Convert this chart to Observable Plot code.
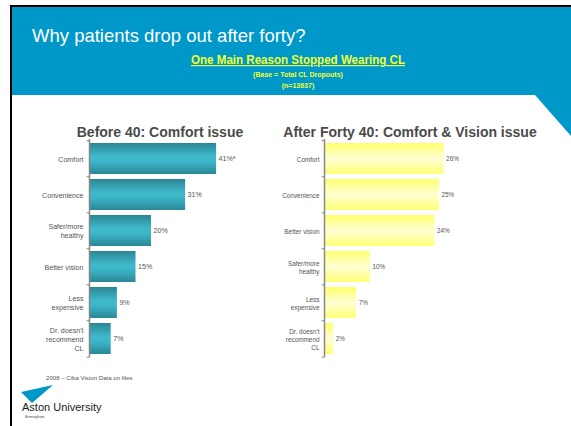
<!DOCTYPE html>
<html><head><meta charset="utf-8">
<script src="https://cdn.jsdelivr.net/npm/d3@7"></script>
<script src="https://cdn.jsdelivr.net/npm/@observablehq/plot@0.6"></script>
<style>
html,body{margin:0;padding:0;background:#fff;}
#page{position:relative;width:571px;height:426px;overflow:hidden;font-family:Arial,"Liberation Sans",sans-serif;background:#fff;}
#bg{position:absolute;left:0;top:0;}
.chart{position:absolute;}
</style></head><body>
<div id="page">
<svg id="bg" width="571" height="426" font-family="Arial, 'Liberation Sans', sans-serif">
  <defs>
    <linearGradient id="gradTeal" x1="0" y1="0" x2="0" y2="1">
      <stop offset="0" stop-color="#2a8593"/>
      <stop offset="0.45" stop-color="#3fbacd"/>
      <stop offset="0.6" stop-color="#3cb6c9"/>
      <stop offset="1" stop-color="#2b8795"/>
    </linearGradient>
    <linearGradient id="gradYellow" x1="0" y1="0" x2="0" y2="1">
      <stop offset="0" stop-color="#ffff6c"/>
      <stop offset="0.5" stop-color="#ffffd4"/>
      <stop offset="1" stop-color="#ffff76"/>
    </linearGradient>
  </defs>
  <polygon points="12,7 571,7 571,136 535,95 12,95" fill="#0097c9"/>
  <rect x="10" y="5" width="561" height="2" fill="#000"/>
  <rect x="10" y="5" width="2" height="421" fill="#000"/>
  <text x="32" y="42" font-size="18.5" fill="#fff">Why patients drop out after forty?</text>
  <text x="298" y="64" font-size="12" font-weight="bold" fill="#f0ff33" text-anchor="middle" textLength="214" lengthAdjust="spacingAndGlyphs" style="text-decoration:underline">One Main Reason Stopped Wearing CL</text>
  <text x="298" y="77" font-size="7" font-weight="bold" fill="#f0ff33" text-anchor="middle">(Base = Total CL Dropouts)</text>
  <text x="298" y="88" font-size="7" font-weight="bold" fill="#f0ff33" text-anchor="middle">(n=13637)</text>
  <text x="160" y="137" font-size="14" font-weight="bold" fill="#4a4a4a" text-anchor="middle">Before 40: Comfort issue</text>
  <text x="410" y="137" font-size="14" font-weight="bold" fill="#4a4a4a" text-anchor="middle">After Forty 40: Comfort &amp; Vision issue</text>
  <text x="46" y="380" font-size="6.1" fill="#555">2008 – Ciba Vision Data on files</text>
  <polygon points="21,392 53,385 32,403" fill="#0097c9"/>
  <text x="22" y="411" font-size="11" fill="#1a1a1a">Aston University</text>
  <text x="25" y="418" font-size="3.6" fill="#444">Birmingham</text>
</svg>
<div id="left" class="chart" style="left:12px;top:130px;width:268px;height:235px"></div>
<div id="right" class="chart" style="left:280px;top:130px;width:250px;height:235px"></div>
</div>
<script>
// ---- data ----
const categoriesBefore = ["Comfort", "Convenience", "Safer/more\nhealthy", "Better vision", "Less\nexpensive", "Dr. doesn't\nrecommend\nCL"];
const valuesBefore = [41, 31, 20, 15, 9, 7];
const notesBefore = ["*", "", "", "", "", ""];

const categoriesAfter = ["Comfort", "Convenience", "Better vision", "Safer/more\nhealthy", "Less\nexpensive", "Dr. doesn't\nrecommend\nCL"];
const valuesAfter = [26, 25, 24, 10, 7, 2];
const notesAfter = ["", "", "", "", "", ""];

const tickSymbol = {draw(ctx) { ctx.moveTo(-3, 0); ctx.lineTo(0, 0); }};

function barChart({cats, vals, notes, fill, width, height, marginLeft, marginRight, xMax, fontSize, tickPadding}) {
  const data = cats.map((c, i) => ({cat: c, v: vals[i], label: vals[i] + "%" + notes[i]}));
  const marginTop = 9, marginBottom = 8, pIn = 0.15, pOut = 0.07;
  const step = (height - marginTop - marginBottom) / (cats.length - pIn + 2 * pOut);
  return Plot.plot({
    width, height, marginTop, marginBottom, marginLeft, marginRight,
    style: {background: "transparent", overflow: "visible", fontSize: fontSize + "px", color: "#555",
            fontFamily: "Arial, 'Liberation Sans', sans-serif"},
    x: {domain: [0, xMax], axis: null},
    y: {domain: cats, paddingInner: pIn, paddingOuter: pOut, axis: null},
    marks: [
      Plot.barX(data, {x: "v", y: "cat", fill}),
      Plot.ruleX([0], {stroke: "#888", strokeWidth: 1.5}),
      Plot.dot(cats, {x: () => 0, y: d => d, symbol: tickSymbol, fill: "none", stroke: "#888", strokeWidth: 1, dy: -step / 2}),
      Plot.dot(cats.slice(-1), {x: () => 0, y: d => d, symbol: tickSymbol, fill: "none", stroke: "#888", strokeWidth: 1, dy: step / 2}),
      Plot.axisY({label: null, tickSize: 0, tickPadding, lineHeight: 1.25, fill: "#555"}),
      Plot.text(data, {x: "v", y: "cat", text: "label", dx: 2, textAnchor: "start", fill: "#555"})
    ]
  });
}

document.getElementById("left").append(barChart({
  cats: categoriesBefore, vals: valuesBefore, notes: notesBefore, fill: "url(#gradTeal)",
  width: 268, height: 235, marginLeft: 77, marginRight: 36, xMax: 50, fontSize: 7.1, tickPadding: 6
}));
document.getElementById("right").append(barChart({
  cats: categoriesAfter, vals: valuesAfter, notes: notesAfter, fill: "url(#gradYellow)",
  width: 250, height: 235, marginLeft: 44, marginRight: 68, xMax: 30, fontSize: 6.4, tickPadding: 5
}));
</script>
</body></html>
